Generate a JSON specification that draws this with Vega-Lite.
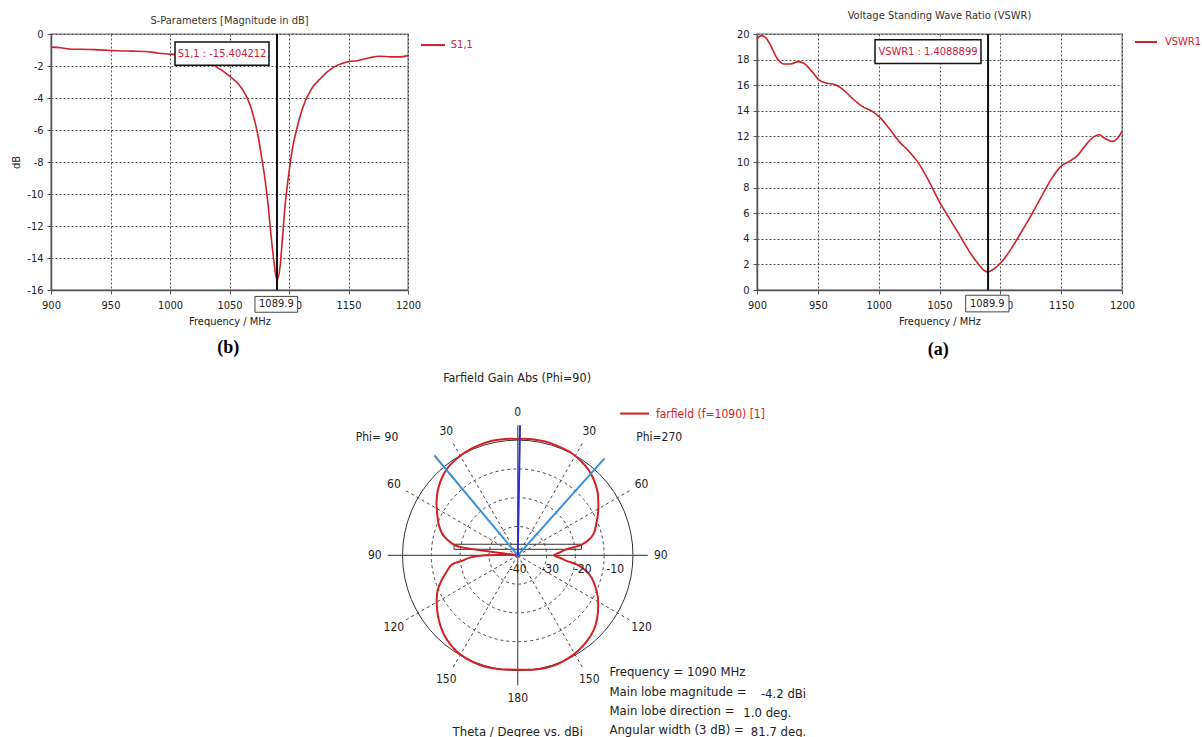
{
  "$schema": "https://vega.github.io/schema/vega-lite/v6.json",
  "background": "white",
  "padding": {"left": 9, "top": 8, "right": 0, "bottom": 0},
  "config": {
    "font": "'DejaVu Sans Condensed', 'DejaVu Sans', sans-serif",
    "view": {"stroke": "#9a9a9a", "strokeWidth": 1.5},
    "axis": {
      "labelFont": "'DejaVu Sans Condensed', 'DejaVu Sans', sans-serif", "labelFontSize": 11, "labelColor": "#222",
      "titleFont": "'DejaVu Sans Condensed', 'DejaVu Sans', sans-serif", "titleFontSize": 11, "titleFontWeight": "normal", "titleColor": "#222",
      "tickSize": 4, "tickColor": "#555", "domainColor": "#555", "domainWidth": 1.5,
      "gridColor": "#333", "gridDash": [2, 2], "gridOpacity": 0.85,
      "labelFlush": false, "labelOverlap": false, "labelExpr": "datum.value"
    },
    "axisX": {"labelPadding": 5, "titlePadding": 5},
    "axisY": {"labelPadding": 4},
    "title": {"font": "'DejaVu Sans Condensed', 'DejaVu Sans', sans-serif", "fontSize": 11, "fontWeight": "normal", "color": "#333"},
    "text": {"font": "'DejaVu Sans Condensed', 'DejaVu Sans', sans-serif", "fontSize": 11, "color": "#222"}
  },
  "datasets": {
    "s11": [
      {"f": 900, "v": -0.82}, {"f": 908, "v": -0.86}, {"f": 918, "v": -0.95}, {"f": 926, "v": -0.95},
      {"f": 940, "v": -0.99}, {"f": 950, "v": -1.03}, {"f": 968, "v": -1.07}, {"f": 979, "v": -1.09},
      {"f": 990.6, "v": -1.2}, {"f": 1000.5, "v": -1.26}, {"f": 1010, "v": -1.33}, {"f": 1020, "v": -1.45},
      {"f": 1028, "v": -1.65}, {"f": 1035.6, "v": -1.91}, {"f": 1041, "v": -2.15}, {"f": 1046.8, "v": -2.44},
      {"f": 1052, "v": -2.75}, {"f": 1058, "v": -3.17}, {"f": 1062, "v": -3.6}, {"f": 1065, "v": -4.02},
      {"f": 1068, "v": -4.6}, {"f": 1070.6, "v": -5.28}, {"f": 1073, "v": -6.0}, {"f": 1074.9, "v": -6.75},
      {"f": 1077, "v": -7.7}, {"f": 1079, "v": -8.64}, {"f": 1081.9, "v": -10.3}, {"f": 1084.7, "v": -12.43},
      {"f": 1087.5, "v": -14.32}, {"f": 1089.9, "v": -15.4}, {"f": 1092.5, "v": -14.53}, {"f": 1094.4, "v": -12.85},
      {"f": 1096.7, "v": -10.74}, {"f": 1099.3, "v": -9.06}, {"f": 1102.9, "v": -7.17}, {"f": 1106.6, "v": -5.91},
      {"f": 1111.3, "v": -4.65}, {"f": 1118.4, "v": -3.49}, {"f": 1126.8, "v": -2.75}, {"f": 1136.6, "v": -2.12},
      {"f": 1147.9, "v": -1.77}, {"f": 1159.1, "v": -1.64}, {"f": 1167.5, "v": -1.49}, {"f": 1175.9, "v": -1.39},
      {"f": 1185.7, "v": -1.43}, {"f": 1192.7, "v": -1.43}, {"f": 1200, "v": -1.35}
    ],
    "vswr": [
      {"f": 900, "v": 19.61}, {"f": 903.6, "v": 19.87}, {"f": 906.9, "v": 19.74}, {"f": 911, "v": 19.14},
      {"f": 916.5, "v": 18.1}, {"f": 922, "v": 17.66}, {"f": 927.5, "v": 17.66}, {"f": 934.3, "v": 17.84},
      {"f": 938.4, "v": 17.71}, {"f": 945.3, "v": 17.06}, {"f": 950.8, "v": 16.42}, {"f": 957.6, "v": 16.16},
      {"f": 964.5, "v": 16.03}, {"f": 970, "v": 15.71}, {"f": 978.2, "v": 14.99}, {"f": 986.5, "v": 14.34},
      {"f": 994.7, "v": 13.95}, {"f": 1001.6, "v": 13.43}, {"f": 1008.4, "v": 12.65}, {"f": 1016.7, "v": 11.61},
      {"f": 1024.9, "v": 10.83}, {"f": 1031.8, "v": 10.05}, {"f": 1041.4, "v": 8.49}, {"f": 1049.6, "v": 6.94},
      {"f": 1057.8, "v": 5.64}, {"f": 1066.1, "v": 4.34}, {"f": 1074.3, "v": 3.04}, {"f": 1082.6, "v": 1.95},
      {"f": 1087, "v": 1.5}, {"f": 1089.9, "v": 1.41}, {"f": 1094.9, "v": 1.66}, {"f": 1100.4, "v": 2.13},
      {"f": 1108.6, "v": 3.17}, {"f": 1116.9, "v": 4.47}, {"f": 1126.5, "v": 6.03}, {"f": 1134.7, "v": 7.45},
      {"f": 1141.6, "v": 8.62}, {"f": 1149.8, "v": 9.66}, {"f": 1156.7, "v": 10.05}, {"f": 1163.6, "v": 10.52},
      {"f": 1170.4, "v": 11.35}, {"f": 1177.3, "v": 12.0}, {"f": 1181.4, "v": 12.13}, {"f": 1185.5, "v": 11.87},
      {"f": 1192.4, "v": 11.61}, {"f": 1196.5, "v": 11.87}, {"f": 1200, "v": 12.39}
    ],
    "ff": [
      {"ang": 0, "g": -4.2}, {"ang": 7, "g": -4.0}, {"ang": 13.6, "g": -4.0}, {"ang": 20, "g": -4.2},
      {"ang": 28.1, "g": -4.5}, {"ang": 34, "g": -5.1}, {"ang": 39.9, "g": -5.9}, {"ang": 45, "g": -7.0},
      {"ang": 50.7, "g": -8.4}, {"ang": 56, "g": -10.1}, {"ang": 62.6, "g": -12.2}, {"ang": 68, "g": -13.9},
      {"ang": 74.1, "g": -15.7}, {"ang": 77.5, "g": -17.5}, {"ang": 80.3, "g": -19.9}, {"ang": 83.2, "g": -25.2},
      {"ang": 86.5, "g": -27.3}, {"ang": 90, "g": -28.9}, {"ang": 93, "g": -27.2}, {"ang": 96, "g": -25.3},
      {"ang": 99, "g": -21.5}, {"ang": 102.5, "g": -18.7}, {"ang": 107, "g": -16.2}, {"ang": 112.2, "g": -14.2},
      {"ang": 117, "g": -12.4}, {"ang": 122.7, "g": -10.6}, {"ang": 128.5, "g": -8.8}, {"ang": 134.6, "g": -7.2},
      {"ang": 141, "g": -6.1}, {"ang": 147.3, "g": -5.3}, {"ang": 154, "g": -4.7}, {"ang": 161.1, "g": -4.3},
      {"ang": 170, "g": -4.4}, {"ang": 180, "g": -4.8}, {"ang": 190, "g": -4.5}, {"ang": 196.1, "g": -4.3},
      {"ang": 203, "g": -4.4}, {"ang": 211, "g": -4.8}, {"ang": 217, "g": -5.6}, {"ang": 223.4, "g": -6.8},
      {"ang": 229.5, "g": -8.3}, {"ang": 235.7, "g": -10.0}, {"ang": 241, "g": -11.5}, {"ang": 246.4, "g": -13.1},
      {"ang": 252, "g": -15.4}, {"ang": 257.7, "g": -17.8}, {"ang": 262, "g": -19.5}, {"ang": 264.5, "g": -23.0},
      {"ang": 267, "g": -25.0}, {"ang": 270, "g": -30.0}, {"ang": 272, "g": -40.0}, {"ang": 277, "g": -40.0},
      {"ang": 277.7, "g": -30.2}, {"ang": 279, "g": -20.5}, {"ang": 283, "g": -17.5}, {"ang": 286, "g": -15.8},
      {"ang": 291, "g": -14.0}, {"ang": 297.3, "g": -12.1}, {"ang": 303, "g": -10.2}, {"ang": 309.1, "g": -8.3},
      {"ang": 315, "g": -6.8}, {"ang": 320.8, "g": -5.6}, {"ang": 327, "g": -4.9}, {"ang": 333.1, "g": -4.4},
      {"ang": 340, "g": -4.1}, {"ang": 347.3, "g": -3.9}, {"ang": 354, "g": -4.0}, {"ang": 360, "g": -4.2}
    ],
    "angLabels": [
      {"ang": 0, "t": "0"}, {"ang": 30, "t": "30"}, {"ang": 60, "t": "60"}, {"ang": 90, "t": "90"},
      {"ang": 120, "t": "120"}, {"ang": 150, "t": "150"}, {"ang": 180, "t": "180"}, {"ang": 210, "t": "150"},
      {"ang": 240, "t": "120"}, {"ang": 270, "t": "90"}, {"ang": 300, "t": "60"}, {"ang": 330, "t": "30"}
    ]
  },
  "bounds": "full",
  "spacing": 11,
  "vconcat": [
    {
      "bounds": "flush",
      "spacing": 349,
      "hconcat": [
        {
          "width": 357,
          "height": 256,
          "title": {"text": "S-Parameters [Magnitude in dB]", "offset": 2.5},
          "layer": [
            {
              "data": {"name": "s11"},
              "mark": {"type": "line", "strokeWidth": 1.6, "interpolate": "monotone", "color": "#d0202a"},
              "encoding": {
                "x": {"field": "f", "type": "quantitative", "scale": {"domain": [900, 1200], "nice": false, "zero": false},
                      "axis": {"values": [900, 950, 1000, 1050, 1100, 1150, 1200], "title": "Frequency / MHz"}},
                "y": {"field": "v", "type": "quantitative", "scale": {"domain": [-16, 0], "nice": false, "zero": false},
                      "axis": {"values": [-16, -14, -12, -10, -8, -6, -4, -2, 0], "title": "dB", "titleX": -30, "titleY": 128}}
              }
            },
            {
              "data": {"values": [{}]},
              "mark": {"type": "rule", "color": "#111", "strokeWidth": 2},
              "encoding": {"x": {"datum": 1089.9, "type": "quantitative", "axis": {"values": [900, 950, 1000, 1050, 1100, 1150, 1200], "title": "Frequency / MHz"}}}
            },
            {
              "data": {"values": [{}]},
              "mark": {"type": "rect", "fill": "white", "stroke": "#111", "strokeWidth": 1.5},
              "encoding": {
                "x": {"datum": 1004.2, "type": "quantitative", "axis": {"values": [900, 950, 1000, 1050, 1100, 1150, 1200], "title": "Frequency / MHz"}},
                "x2": {"datum": 1083.2},
                "y": {"datum": -0.5, "type": "quantitative", "axis": {"values": [-16, -14, -12, -10, -8, -6, -4, -2, 0], "title": "dB", "titleX": -30, "titleY": 128}},
                "y2": {"datum": -1.95}}
            },
            {
              "data": {"values": [{}]},
              "mark": {"type": "text", "text": "S1,1 : -15.404212", "color": "#c8203a", "fontSize": 11},
              "encoding": {
                "x": {"datum": 1043.7, "type": "quantitative", "axis": {"values": [900, 950, 1000, 1050, 1100, 1150, 1200], "title": "Frequency / MHz"}},
                "y": {"datum": -1.23, "type": "quantitative", "axis": {"values": [-16, -14, -12, -10, -8, -6, -4, -2, 0], "title": "dB", "titleX": -30, "titleY": 128}}}
            },
            {
              "data": {"values": [{}]},
              "mark": {"type": "rect", "fill": "white", "stroke": "#444", "strokeWidth": 1},
              "encoding": {
                "x": {"datum": 1071.4, "type": "quantitative", "axis": {"values": [900, 950, 1000, 1050, 1100, 1150, 1200], "title": "Frequency / MHz"}},
                "x2": {"datum": 1107.3},
                "y": {"datum": -16.4, "type": "quantitative", "axis": {"values": [-16, -14, -12, -10, -8, -6, -4, -2, 0], "title": "dB", "titleX": -30, "titleY": 128}},
                "y2": {"datum": -17.39}}
            },
            {
              "data": {"values": [{}]},
              "mark": {"type": "text", "text": "1089.9", "color": "#222", "fontSize": 11},
              "encoding": {
                "x": {"datum": 1089.4, "type": "quantitative", "axis": {"values": [900, 950, 1000, 1050, 1100, 1150, 1200], "title": "Frequency / MHz"}},
                "y": {"datum": -16.9, "type": "quantitative", "axis": {"values": [-16, -14, -12, -10, -8, -6, -4, -2, 0], "title": "dB", "titleX": -30, "titleY": 128}}}
            },
            {
              "data": {"values": [{}]},
              "mark": {"type": "rule", "color": "#d0202a", "strokeWidth": 2},
              "encoding": {
                "x": {"datum": 1210.9, "type": "quantitative", "axis": {"values": [900, 950, 1000, 1050, 1100, 1150, 1200], "title": "Frequency / MHz"}},
                "x2": {"datum": 1231.1},
                "y": {"datum": -0.69, "type": "quantitative", "axis": {"values": [-16, -14, -12, -10, -8, -6, -4, -2, 0], "title": "dB", "titleX": -30, "titleY": 128}}}
            },
            {
              "data": {"values": [{}]},
              "mark": {"type": "text", "text": "S1,1", "color": "#d0202a", "fontSize": 11, "align": "left"},
              "encoding": {
                "x": {"datum": 1236, "type": "quantitative", "axis": {"values": [900, 950, 1000, 1050, 1100, 1150, 1200], "title": "Frequency / MHz"}},
                "y": {"datum": -0.69, "type": "quantitative", "axis": {"values": [-16, -14, -12, -10, -8, -6, -4, -2, 0], "title": "dB", "titleX": -30, "titleY": 128}}}
            },
            {
              "data": {"values": [{}]},
              "mark": {"type": "text", "text": "(b)", "color": "#000", "fontSize": 18, "fontWeight": "bold", "font": "Liberation Serif"},
              "encoding": {
                "x": {"datum": 1049, "type": "quantitative", "axis": {"values": [900, 950, 1000, 1050, 1100, 1150, 1200], "title": "Frequency / MHz"}},
                "y": {"datum": -19.6, "type": "quantitative", "axis": {"values": [-16, -14, -12, -10, -8, -6, -4, -2, 0], "title": "dB", "titleX": -30, "titleY": 128}}}
            }
          ]
        },
        {
          "width": 365,
          "height": 256,
          "title": {"text": "Voltage Standing Wave Ratio (VSWR)", "offset": 7.5},
          "layer": [
            {
              "data": {"name": "vswr"},
              "mark": {"type": "line", "strokeWidth": 1.6, "interpolate": "monotone", "color": "#d0202a"},
              "encoding": {
                "x": {"field": "f", "type": "quantitative", "scale": {"domain": [900, 1200], "nice": false, "zero": false},
                      "axis": {"values": [900, 950, 1000, 1050, 1100, 1150, 1200], "title": "Frequency / MHz"}},
                "y": {"field": "v", "type": "quantitative", "scale": {"domain": [0, 20], "nice": false, "zero": false},
                      "axis": {"values": [0, 2, 4, 6, 8, 10, 12, 14, 16, 18, 20], "title": null}}
              }
            },
            {
              "data": {"values": [{}]},
              "mark": {"type": "rule", "color": "#111", "strokeWidth": 2},
              "encoding": {"x": {"datum": 1089.9, "type": "quantitative", "axis": {"values": [900, 950, 1000, 1050, 1100, 1150, 1200], "title": "Frequency / MHz"}}}
            },
            {
              "data": {"values": [{}]},
              "mark": {"type": "rect", "fill": "white", "stroke": "#111", "strokeWidth": 1.5},
              "encoding": {
                "x": {"datum": 997.0, "type": "quantitative", "axis": {"values": [900, 950, 1000, 1050, 1100, 1150, 1200], "title": "Frequency / MHz"}},
                "x2": {"datum": 1084.1},
                "y": {"datum": 19.56, "type": "quantitative", "axis": {"values": [0, 2, 4, 6, 8, 10, 12, 14, 16, 18, 20], "title": null}},
                "y2": {"datum": 17.69}}
            },
            {
              "data": {"values": [{}]},
              "mark": {"type": "text", "text": "VSWR1 : 1.4088899", "color": "#c8203a", "fontSize": 11},
              "encoding": {
                "x": {"datum": 1040.5, "type": "quantitative", "axis": {"values": [900, 950, 1000, 1050, 1100, 1150, 1200], "title": "Frequency / MHz"}},
                "y": {"datum": 18.62, "type": "quantitative", "axis": {"values": [0, 2, 4, 6, 8, 10, 12, 14, 16, 18, 20], "title": null}}}
            },
            {
              "data": {"values": [{}]},
              "mark": {"type": "rect", "fill": "white", "stroke": "#444", "strokeWidth": 1},
              "encoding": {
                "x": {"datum": 1071.5, "type": "quantitative", "axis": {"values": [900, 950, 1000, 1050, 1100, 1150, 1200], "title": "Frequency / MHz"}},
                "x2": {"datum": 1107.1},
                "y": {"datum": -0.41, "type": "quantitative", "axis": {"values": [0, 2, 4, 6, 8, 10, 12, 14, 16, 18, 20], "title": null}},
                "y2": {"datum": -1.71}}
            },
            {
              "data": {"values": [{}]},
              "mark": {"type": "text", "text": "1089.9", "color": "#222", "fontSize": 11},
              "encoding": {
                "x": {"datum": 1089.3, "type": "quantitative", "axis": {"values": [900, 950, 1000, 1050, 1100, 1150, 1200], "title": "Frequency / MHz"}},
                "y": {"datum": -1.06, "type": "quantitative", "axis": {"values": [0, 2, 4, 6, 8, 10, 12, 14, 16, 18, 20], "title": null}}}
            },
            {
              "data": {"values": [{}]},
              "mark": {"type": "rule", "color": "#d0202a", "strokeWidth": 2},
              "encoding": {
                "x": {"datum": 1210.7, "type": "quantitative", "axis": {"values": [900, 950, 1000, 1050, 1100, 1150, 1200], "title": "Frequency / MHz"}},
                "x2": {"datum": 1228.8},
                "y": {"datum": 19.375, "type": "quantitative", "axis": {"values": [0, 2, 4, 6, 8, 10, 12, 14, 16, 18, 20], "title": null}}}
            },
            {
              "data": {"values": [{}]},
              "mark": {"type": "text", "text": "VSWR1", "color": "#d0202a", "fontSize": 11, "align": "left"},
              "encoding": {
                "x": {"datum": 1235.3, "type": "quantitative", "axis": {"values": [900, 950, 1000, 1050, 1100, 1150, 1200], "title": "Frequency / MHz"}},
                "y": {"datum": 19.375, "type": "quantitative", "axis": {"values": [0, 2, 4, 6, 8, 10, 12, 14, 16, 18, 20], "title": null}}}
            },
            {
              "data": {"values": [{}]},
              "mark": {"type": "text", "text": "(a)", "color": "#000", "fontSize": 18, "fontWeight": "bold", "font": "Liberation Serif"},
              "encoding": {
                "x": {"datum": 1049, "type": "quantitative", "axis": {"values": [900, 950, 1000, 1050, 1100, 1150, 1200], "title": "Frequency / MHz"}},
                "y": {"datum": -4.7, "type": "quantitative", "axis": {"values": [0, 2, 4, 6, 8, 10, 12, 14, 16, 18, 20], "title": null}}}
            }
          ]
        }
      ]
    },
    {
      "width": 1071,
      "height": 367,
      "view": {"stroke": null},
      "layer": [
        {
          "data": {"values": [{"r": 10}, {"r": 20}, {"r": 30}]},
          "mark": {"type": "point", "shape": "circle", "filled": false, "stroke": "#444", "strokeWidth": 1, "strokeDash": [3, 3], "opacity": 1},
          "encoding": {
            "x": {"datum": 0, "type": "quantitative", "scale": {"domain": [-143.6, 185.9], "nice": false, "zero": false}, "axis": null},
            "y": {"datum": 0, "type": "quantitative", "scale": {"domain": [-56.2, 56.7], "nice": false, "zero": false}, "axis": null},
            "size": {"field": "r", "type": "quantitative", "scale": {"type": "pow", "exponent": 2, "domain": [0, 40], "range": [0, 53093], "zero": true}, "legend": null}
          }
        },
        {
          "data": {"values": [{"r": 40}]},
          "mark": {"type": "point", "shape": "circle", "filled": false, "stroke": "#333", "strokeWidth": 1, "opacity": 1},
          "encoding": {
            "x": {"datum": 0, "type": "quantitative", "axis": null},
            "y": {"datum": 0, "type": "quantitative", "axis": null},
            "size": {"field": "r", "type": "quantitative", "legend": null}
          }
        },
        {
          "data": {"values": [{"ang": 30}, {"ang": 60}, {"ang": 120}, {"ang": 150}, {"ang": 210}, {"ang": 240}, {"ang": 300}, {"ang": 330}]},
          "transform": [
            {"calculate": "0", "as": "ox"},
            {"calculate": "0", "as": "oy"},
            {"calculate": "40*sin(datum.ang*PI/180)", "as": "ex"},
            {"calculate": "40*cos(datum.ang*PI/180)", "as": "ey"}
          ],
          "mark": {"type": "rule", "color": "#444", "strokeWidth": 1, "strokeDash": [3, 3]},
          "encoding": {"x": {"field": "ox", "type": "quantitative", "axis": null}, "y": {"field": "oy", "type": "quantitative", "axis": null}, "x2": {"field": "ex"}, "y2": {"field": "ey"}}
        },
        {
          "data": {"values": [{"ang": 0}, {"ang": 90}]},
          "transform": [
            {"calculate": "-40*sin(datum.ang*PI/180)", "as": "ox"},
            {"calculate": "-40*cos(datum.ang*PI/180)", "as": "oy"},
            {"calculate": "40*sin(datum.ang*PI/180)", "as": "ex"},
            {"calculate": "40*cos(datum.ang*PI/180)", "as": "ey"}
          ],
          "mark": {"type": "rule", "color": "#555", "strokeWidth": 1.2},
          "encoding": {"x": {"field": "ox", "type": "quantitative", "axis": null}, "y": {"field": "oy", "type": "quantitative", "axis": null}, "x2": {"field": "ex"}, "y2": {"field": "ey"}}
        },
        {
          "data": {"values": [{}]},
          "mark": {"type": "rect", "filled": false, "stroke": "#333", "strokeWidth": 1},
          "encoding": {"x": {"datum": -19.6, "type": "quantitative", "axis": null}, "x2": {"datum": 19.6}, "y": {"datum": 3.4, "type": "quantitative", "axis": null}, "y2": {"datum": 1.85}}
        },
        {
          "data": {"name": "ff"},
          "transform": [
            {"calculate": "(datum.g+40)*sin(datum.ang*PI/180)", "as": "px"},
            {"calculate": "(datum.g+40)*cos(datum.ang*PI/180)", "as": "py"}
          ],
          "mark": {"type": "line", "strokeWidth": 2, "interpolate": "catmull-rom", "color": "#d42020"},
          "encoding": {
            "x": {"field": "px", "type": "quantitative", "axis": null},
            "y": {"field": "py", "type": "quantitative", "axis": null},
            "order": {"field": "ang", "type": "quantitative"}
          }
        },
        {
          "data": {"values": [{"ang": 41.85}, {"ang": 320.15}]},
          "transform": [
            {"calculate": "0", "as": "ox"},
            {"calculate": "0", "as": "oy"},
            {"calculate": "40*sin(datum.ang*PI/180)", "as": "ex"},
            {"calculate": "40*cos(datum.ang*PI/180)", "as": "ey"}
          ],
          "mark": {"type": "rule", "color": "#3a90dc", "strokeWidth": 2},
          "encoding": {"x": {"field": "ox", "type": "quantitative", "axis": null}, "y": {"field": "oy", "type": "quantitative", "axis": null}, "x2": {"field": "ex"}, "y2": {"field": "ey"}}
        },
        {
          "data": {"values": [{"ang": 1.0}]},
          "transform": [
            {"calculate": "0", "as": "ox"},
            {"calculate": "0", "as": "oy"},
            {"calculate": "40*sin(datum.ang*PI/180)", "as": "ex"},
            {"calculate": "40*cos(datum.ang*PI/180)", "as": "ey"}
          ],
          "mark": {"type": "rule", "color": "#2430c8", "strokeWidth": 2},
          "encoding": {"x": {"field": "ox", "type": "quantitative", "axis": null}, "y": {"field": "oy", "type": "quantitative", "axis": null}, "x2": {"field": "ex"}, "y2": {"field": "ey"}}
        },
        {
          "data": {"name": "angLabels"},
          "transform": [
            {"calculate": "44*sin(datum.ang*PI/180)", "as": "tx"},
            {"calculate": "44*cos(datum.ang*PI/180)", "as": "ty"}
          ],
          "mark": {"type": "text", "fontSize": 12},
          "encoding": {"x": {"field": "tx", "type": "quantitative", "axis": null}, "y": {"field": "ty", "type": "quantitative", "axis": null}, "text": {"field": "t", "type": "nominal"}}
        },
        {
          "data": {"values": [{"lv": -40, "t": "-40"}, {"lv": -30, "t": "-30"}, {"lv": -20, "t": "-20"}, {"lv": -10, "t": "-10"}]},
          "transform": [{"calculate": "datum.lv+40", "as": "rx"}, {"calculate": "0", "as": "ry"}],
          "mark": {"type": "text", "fontSize": 12, "dy": 14},
          "encoding": {"x": {"field": "rx", "type": "quantitative", "axis": null}, "y": {"field": "ry", "type": "quantitative", "axis": null}, "text": {"field": "t", "type": "nominal"}}
        },
        {
          "data": {"values": [{}]},
          "mark": {"type": "rule", "color": "#d42020", "strokeWidth": 2},
          "encoding": {"x": {"datum": 31.5, "type": "quantitative", "axis": null}, "x2": {"datum": 40.4}, "y": {"datum": 43.6, "type": "quantitative", "axis": null}}
        },
        {
          "data": {"values": [{}]},
          "mark": {"type": "text", "text": "farfield (f=1090) [1]", "color": "#d42020", "fontSize": 12, "align": "left"},
          "encoding": {"x": {"datum": 42.5, "type": "quantitative", "axis": null}, "y": {"datum": 43.6, "type": "quantitative", "axis": null}}
        },
        {
          "data": {"values": [{}]},
          "mark": {"type": "text", "text": "Farfield Gain Abs (Phi=90)", "fontSize": 12.5},
          "encoding": {"x": {"datum": -0.2, "type": "quantitative", "axis": null}, "y": {"datum": 54.6, "type": "quantitative", "axis": null}}
        },
        {
          "data": {"values": [{}]},
          "mark": {"type": "text", "text": "Phi= 90", "fontSize": 12},
          "encoding": {"x": {"datum": -43.3, "type": "quantitative", "axis": null}, "y": {"datum": 36.5, "type": "quantitative", "axis": null}}
        },
        {
          "data": {"values": [{}]},
          "mark": {"type": "text", "text": "Phi=270", "fontSize": 12},
          "encoding": {"x": {"datum": 43.5, "type": "quantitative", "axis": null}, "y": {"datum": 36.4, "type": "quantitative", "axis": null}}
        },
        {
          "data": {"values": [{}]},
          "mark": {"type": "text", "text": "Theta / Degree vs. dBi", "fontSize": 13},
          "encoding": {"x": {"datum": 0, "type": "quantitative", "axis": null}, "y": {"datum": -54.3, "type": "quantitative", "axis": null}}
        },
        {
          "data": {"values": [{}]},
          "mark": {"type": "text", "text": ["Frequency = 1090 MHz", "Main lobe magnitude =", "Main lobe direction =", "Angular width (3 dB) ="], "fontSize": 13, "align": "left", "baseline": "top", "lineHeight": 19.3},
          "encoding": {"x": {"datum": 28.2, "type": "quantitative", "axis": null}, "y": {"datum": -34.2, "type": "quantitative", "axis": null}}
        },
        {
          "data": {"values": [{}]},
          "mark": {"type": "text", "text": "-4.2 dBi", "fontSize": 13, "align": "left"},
          "encoding": {"x": {"datum": 74.8, "type": "quantitative", "axis": null}, "y": {"datum": -42.6, "type": "quantitative", "axis": null}}
        },
        {
          "data": {"values": [{}]},
          "mark": {"type": "text", "text": "1.0 deg.", "fontSize": 13, "align": "left"},
          "encoding": {"x": {"datum": 69.4, "type": "quantitative", "axis": null}, "y": {"datum": -48.4, "type": "quantitative", "axis": null}}
        },
        {
          "data": {"values": [{}]},
          "mark": {"type": "text", "text": "81.7 deg.", "fontSize": 13, "align": "left"},
          "encoding": {"x": {"datum": 71.7, "type": "quantitative", "axis": null}, "y": {"datum": -54.3, "type": "quantitative", "axis": null}}
        }
      ]
    }
  ]
}
